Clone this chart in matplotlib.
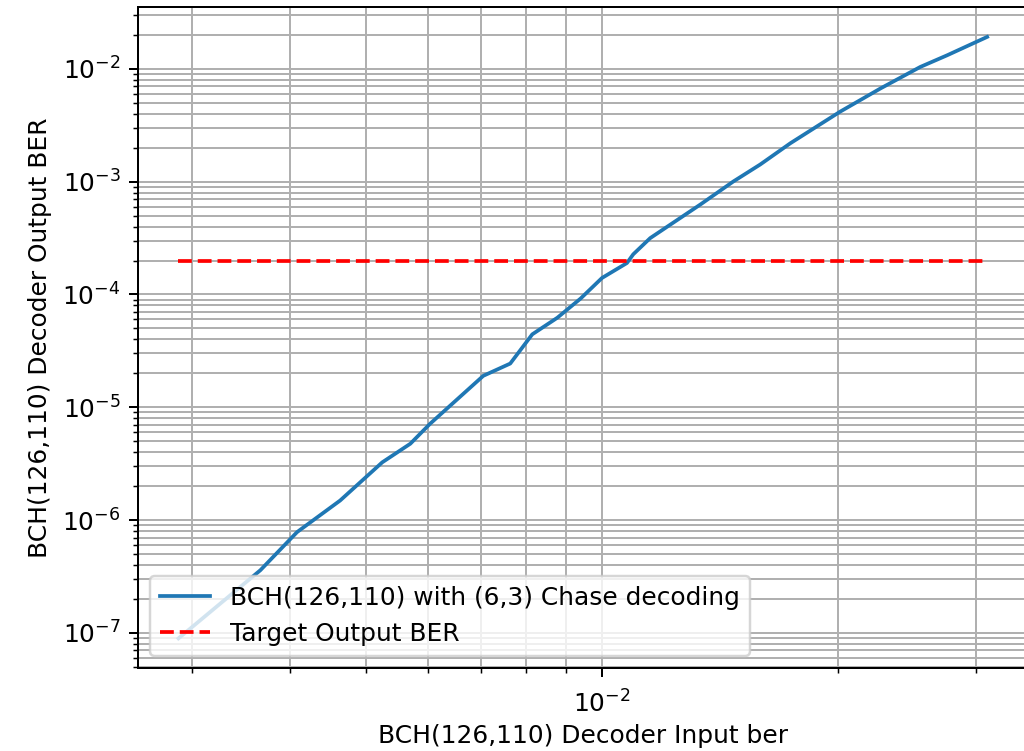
import matplotlib
matplotlib.use("Agg")
import matplotlib.pyplot as plt

input_ber = [2.880e-3, 3.663e-3, 4.08e-3, 4.63e-3, 5.24e-3, 5.69e-3, 6.03e-3,
             7.05e-3, 7.63e-3, 8.14e-3, 8.76e-3, 9.38e-3, 9.99e-3, 1.075e-2,
             1.095e-2, 1.151e-2, 1.334e-2, 1.469e-2, 1.59e-2, 1.737e-2,
             2.01e-2, 2.263e-2, 2.544e-2, 2.753e-2, 3.096e-2]
output_ber = [8.93e-8, 3.59e-7, 7.82e-7, 1.49e-6, 3.25e-6, 4.75e-6, 7.14e-6,
              1.90e-5, 2.44e-5, 4.43e-5, 6.21e-5, 9.19e-5, 1.40e-4, 1.90e-4,
              2.27e-4, 3.16e-4, 6.28e-4, 1.003e-3, 1.42e-3, 2.19e-3,
              4.17e-3, 6.70e-3, 1.04e-2, 1.32e-2, 1.92e-2]
target_ber = 2e-4

series_label = "BCH(126,110) with (6,3) Chase decoding"
target_label = "Target Output BER"
xlabel = "BCH(126,110) Decoder Input ber"
ylabel = "BCH(126,110) Decoder Output BER"

DPI = 179
fig = plt.figure(figsize=(1024 / DPI, 751 / DPI), dpi=DPI)
ax = fig.add_axes([0.1348, 0.1099, 0.8687, 0.8810])
ax.loglog(input_ber, output_ber, color="#1f77b4", label=series_label)
ax.loglog([input_ber[0], input_ber[-1]], [target_ber, target_ber], "r--",
          label=target_label)
ax.grid(True, which="both")
ax.tick_params(axis="x", which="major", pad=5.5)
ax.set_xlabel(xlabel, labelpad=2.5)
ax.set_ylabel(ylabel)
ax.legend(loc="lower left")
fig.savefig("out.png", dpi=DPI)
